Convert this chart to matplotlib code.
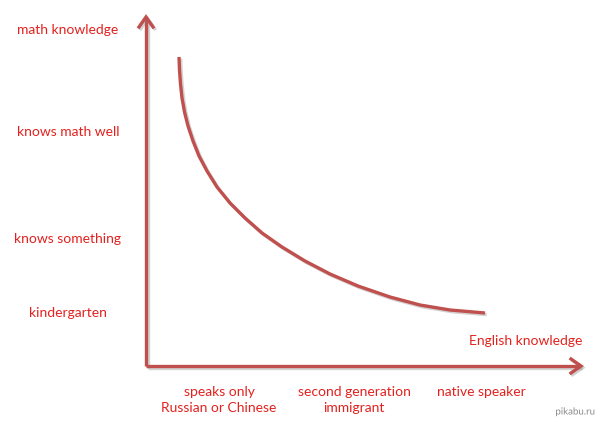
import matplotlib.pyplot as plt
import matplotlib.patheffects as pe

# curve (pixel units, y down)
curve_x = [179, 179.5, 180.5, 182, 184.5, 188, 193, 199, 207, 217, 230, 245, 262, 282, 305, 330, 358, 390, 420, 450, 485]
curve_y = [57, 70, 84, 98, 112, 126, 141, 156, 171, 187, 203, 218, 233, 247, 261, 274, 286, 297, 305, 310, 313]

y_labels = ["math knowledge", "knows math well", "knows something", "kindergarten"]
y_label_pos = [30, 132, 239, 313]
x_labels = ["speaks only\nRussian or Chinese", "second generation\nimmigrant", "native speaker"]
x_label_pos = [219, 354, 481]

red_line = "#C0504D"
red_text = "#E3211E"
font = ["Lato", "DejaVu Sans"]

fig = plt.figure(figsize=(6, 4.24), dpi=100)
ax = fig.add_axes([0, 0, 1, 1])
ax.set_xlim(0, 600)
ax.set_ylim(424, 0)
ax.axis("off")

shadow = [pe.SimpleLineShadow(offset=(1.2, -1.2), shadow_color="gray", alpha=0.35), pe.Normal()]
lw = 2.4

# axes arrows
ax.plot([146, 146], [366, 18], color=red_line, lw=lw, solid_capstyle="butt", path_effects=shadow)
ax.plot([146, 580], [366, 366], color=red_line, lw=lw, solid_capstyle="butt", path_effects=shadow)
ax.plot([139, 146, 153], [27, 17, 27], color=red_line, lw=lw, solid_joinstyle="miter", path_effects=shadow)
ax.plot([571, 581, 571], [359, 366, 373], color=red_line, lw=lw, solid_joinstyle="miter", path_effects=shadow)

# the curve
ax.plot(curve_x, curve_y, color=red_line, lw=lw, solid_capstyle="butt", solid_joinstyle="round",
        path_effects=shadow)

for lab, y in zip(y_labels, y_label_pos):
    ax.text(68, y, lab, color=red_text, fontsize=10, ha="center", va="center", family=font)

for lab, x in zip(x_labels, x_label_pos):
    ax.text(x, 386, lab, color=red_text, fontsize=10, ha="center", va="top",
            family=font, linespacing=1.45)

ax.text(582, 341, "English knowledge", color=red_text, fontsize=10, ha="right", va="center", family=font)

ax.text(595, 412, "pikabu.ru", color="#8a8a8a", fontsize=7, ha="right", va="center", family=font,
        path_effects=[pe.withStroke(linewidth=2, foreground="white")])

fig.savefig("out.png", dpi=100, facecolor="white")
